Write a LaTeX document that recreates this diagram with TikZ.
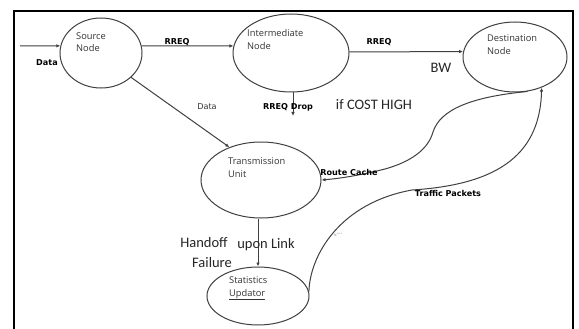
\documentclass[tikz,border=0pt]{standalone}
\usepackage{fontspec}
\usetikzlibrary{arrows.meta,calc,shapes.geometric}
\newfontfamily\nodefont{Open Sans}
\newfontfamily\lblfont{DejaVu Sans}
\newfontfamily\bigfont{Carlito}
\definecolor{linec}{HTML}{404040}
\definecolor{txtc}{HTML}{333333}
\begin{document}
\begin{tikzpicture}[x=1pt,y=-1pt,
  ell/.style={draw=linec, line width=1pt, ellipse, inner sep=0pt},
  ntext/.style={anchor=west, align=left, inner sep=0pt, text=txtc,
    font=\nodefont\fontsize{9.3}{12.5}\selectfont},
  blbl/.style={inner sep=0pt, text=black, font=\lblfont\bfseries\fontsize{8.1}{9.5}\selectfont},
  rlbl/.style={inner sep=0pt, text=txtc, font=\lblfont\fontsize{8.1}{9.5}\selectfont},
  biglbl/.style={inner sep=0pt, text=black!85, font=\bigfont\fontsize{14.5}{17}\selectfont},
  conn/.style={draw=linec, line width=1pt, -{Latex[length=4pt,width=3.5pt]}}
]
\useasboundingbox (0,0) rectangle (579,329);
\fill[white] (0,0) rectangle (579,329);
% frame
\draw[line width=2.5pt, line cap=rect] (14,330) -- (14,11) -- (573,11) -- (573,330);

% ellipses
\node[ell, minimum width=82pt, minimum height=70pt] (src) at (101,53) {};
\node[ell, minimum width=116pt, minimum height=78pt] (int) at (291,53) {};
\node[ell, minimum width=104pt, minimum height=70pt] (dst) at (515,57) {};
\node[ell, minimum width=120pt, minimum height=76pt] (trn) at (261,180) {};
\node[ell, minimum width=102pt, minimum height=58pt] (sta) at (258,296) {};

% node texts
\node[ntext] (srct) at (76,42) {Source\\Node};
\node[ntext] (intt) at (247,39.5) {Intermediate\\Node};
\node[ntext] (dstt) at (487,44.5) {Destination\\Node};
\node[ntext] (trnt) at (228,167.5) {Transmission\\Unit};
\node[ntext] (stat) at (229,288.5) {Statistics\\\underline{Updator}};

% connectors
\coordinate (inA) at (20,46);
\draw[conn] (inA) -- (src.170);
\draw[conn] (src.10) -- (int.173);
\draw[conn] (int.1) -- (dst.174.5);
\draw[conn] (src.-39) -- (trn.134);
\coordinate (drop) at (293,116);
\draw[conn] (int.south -| drop) -- (drop);
\draw[conn] (trn.south -| sta.north) -- (sta.north);
\draw[conn] (dst.-70) .. controls (470,97) and (440,110) .. (433,132)
   .. controls (428,150) and (410,162) .. (385,169)
   .. controls (365,174) and (345,178) .. (trn.east);
\draw[conn] (sta.5) .. controls (310,255) and (340,203) .. (412,190)
   .. controls (490,185) and (540,160) .. (dst.-49);

% labels
\node[blbl] (l1) at (47,63) {Data};
\node[blbl] (l2) at (177,42) {RREQ};
\node[blbl] (l3) at (379,42) {RREQ};
\node[biglbl] (l4) at (441,68) {BW};
\node[rlbl] (l5) at (207,107) {Data};
\node[blbl] (l6) at (288,107) {RREQ Drop};
\node[biglbl] (l7) at (374,105) {if COST HIGH};
\node[blbl] (l8) at (349,172) {Route Cache};
\node[blbl] (l9) at (448,193) {Traffic Packets};
\node[biglbl] (l10) at (204,243) {Handoff};
\node[biglbl] (l11) at (266,245) {upon Link};
\node[biglbl] (l12) at (212,263) {Failure};
\node[inner sep=0pt, text=gray, font=\lblfont\fontsize{3}{3.5}\selectfont] (l13) at (338,235) {TC\textsuperscript{m+1}};
\end{tikzpicture}
\end{document}
